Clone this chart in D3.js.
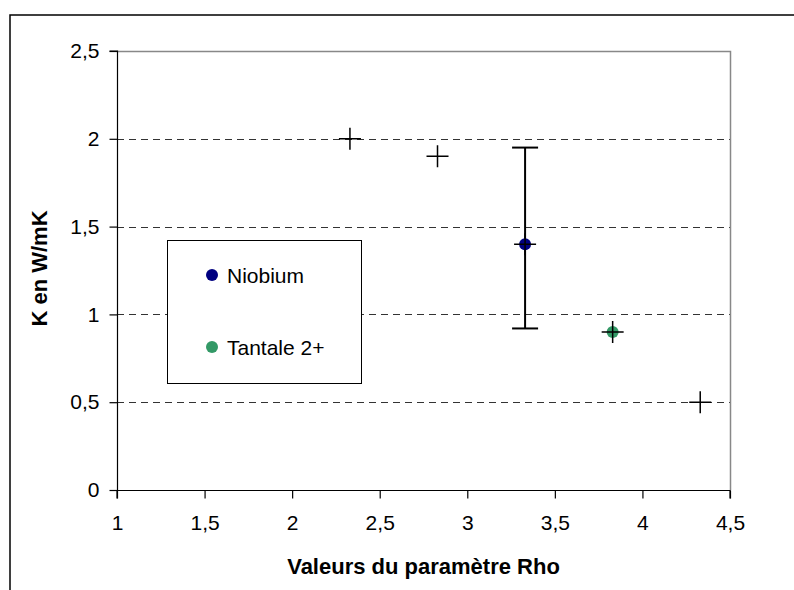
<!DOCTYPE html>
<html>
<head>
<meta charset="utf-8">
<script src="https://cdn.jsdelivr.net/npm/d3@7"></script>
<style>
  html, body { margin: 0; padding: 0; background: #fff; }
  svg { display: block; }
  text { font-family: Arial, "Liberation Sans", sans-serif; fill: #000; }
</style>
</head>
<body>
<script>
// ---- Data ----
const crossRho = [2.33, 2.83, 3.33, 3.83, 4.33];
const crossK = [2.0, 1.9, 1.4, 0.9, 0.5];
const seriesNames = ["Niobium", "Tantale 2+"];
const seriesRho = [3.33, 3.83];
const seriesK = [1.4, 0.9];
const errorRho = [3.33];
const errorLow = [0.92];
const errorHigh = [1.95];
const xTicks = [1, 1.5, 2, 2.5, 3, 3.5, 4, 4.5];
const yTicks = [0, 0.5, 1, 1.5, 2, 2.5];
const xTitle = "Valeurs du paramètre Rho";
const yTitle = "K en W/mK";

const seriesColors = ["#000080", "#339966"];

(function () {
const W = 794, H = 590;
const pL = 117, pR = 730, pT = 51, pB = 490;

const svg = d3.select("body").append("svg").attr("width", W).attr("height", H);

// outer frame (extends past viewport)
svg.append("rect").attr("x", 10).attr("y", 15).attr("width", W + 20).attr("height", H + 20)
  .attr("fill", "#fff").attr("stroke", "#000").attr("stroke-width", 1.5);

const x = d3.scaleLinear().domain([1, 4.5]).range([pL, pR]);
const y = d3.scaleLinear().domain([0, 2.5]).range([pB, pT]);
const fmt = d3.formatLocale({decimal: ",", thousands: " ", grouping: [3], currency: ["", "€"]}).format("~g");

// gridlines
svg.append("g").selectAll("line").data(yTicks.filter(d => d > 0 && d < 2.5)).join("line")
  .attr("x1", pL).attr("x2", pR)
  .attr("y1", d => Math.round(y(d)) + 0.5).attr("y2", d => Math.round(y(d)) + 0.5)
  .attr("stroke", "#333").attr("stroke-width", 1).attr("stroke-dasharray", "7,5");

// plot area top/right border
svg.append("path")
  .attr("d", `M${pL},${pT + 0.5}H${pR + 0.5}V${pB}`)
  .attr("fill", "none").attr("stroke", "#888").attr("stroke-width", 1.5);

// axes
const yAxis = d3.axisLeft(y).tickValues(yTicks).tickSize(8).tickPadding(10).tickFormat(fmt);
const gy = svg.append("g").attr("transform", `translate(${pL + 0.5},0)`).call(yAxis);
const xAxis = d3.axisBottom(x).tickValues(xTicks).tickSize(8).tickPadding(17).tickFormat(fmt);
const gx = svg.append("g").attr("transform", `translate(0,${pB + 0.5})`).call(xAxis);
[gx, gy].forEach(g => {
  g.select(".domain").attr("stroke", "#000").attr("stroke-width", 1.2);
  g.selectAll(".tick line").attr("stroke", "#000").attr("stroke-width", 1.2);
  g.selectAll(".tick text").attr("font-size", 21).attr("font-family", "Arial, 'Liberation Sans', sans-serif").attr("fill", "#000");
});
gy.select(".domain").attr("d", `M-8,${y(2.5)}H0V${y(0)}`);
gx.select(".domain").attr("d", `M${x(1)},8V0H${x(4.5)}V8`);

// axis titles
svg.append("text").attr("x", (pL + pR) / 2).attr("y", 574)
  .attr("text-anchor", "middle").attr("font-size", 22).attr("font-weight", "bold").text(xTitle);
svg.append("text").attr("transform", `translate(47,${(pT + pB) / 2 - 2}) rotate(-90)`)
  .attr("text-anchor", "middle").attr("font-size", 22).attr("font-weight", "bold").text(yTitle);

// error bar
const eb = svg.append("g");
errorRho.forEach((r, i) => {
  eb.append("line").attr("x1", x(r)).attr("x2", x(r)).attr("y1", y(errorLow[i])).attr("y2", y(errorHigh[i]))
    .attr("stroke", "#000").attr("stroke-width", 2);
  [errorLow[i], errorHigh[i]].forEach(v => {
    eb.append("line").attr("x1", x(r) - 13).attr("x2", x(r) + 13).attr("y1", y(v)).attr("y2", y(v))
      .attr("stroke", "#000").attr("stroke-width", 2);
  });
});

// series dots
svg.append("g").selectAll("circle").data(seriesRho).join("circle")
  .attr("cx", d => x(d)).attr("cy", (d, i) => y(seriesK[i])).attr("r", 6)
  .attr("fill", (d, i) => seriesColors[i]);

// cross markers
const cg = svg.append("g");
crossRho.forEach((r, i) => {
  const cx = x(r), cy = y(crossK[i]);
  cg.append("path").attr("d", `M${cx - 11},${cy}H${cx + 11}M${cx},${cy - 11}V${cy + 11}`)
    .attr("stroke", "#000").attr("stroke-width", 1.5).attr("fill", "none");
});

// legend
const lg = svg.append("g");
lg.append("rect").attr("x", 167.5).attr("y", 240.5).attr("width", 194).attr("height", 143)
  .attr("fill", "#fff").attr("stroke", "#000").attr("stroke-width", 1);
seriesNames.forEach((name, i) => {
  const cy = 275 + i * 72;
  lg.append("circle").attr("cx", 212).attr("cy", cy).attr("r", 6).attr("fill", seriesColors[i]);
  lg.append("text").attr("x", 227).attr("y", cy + 8).attr("font-size", 21).text(name);
});
})();
</script>
</body>
</html>
